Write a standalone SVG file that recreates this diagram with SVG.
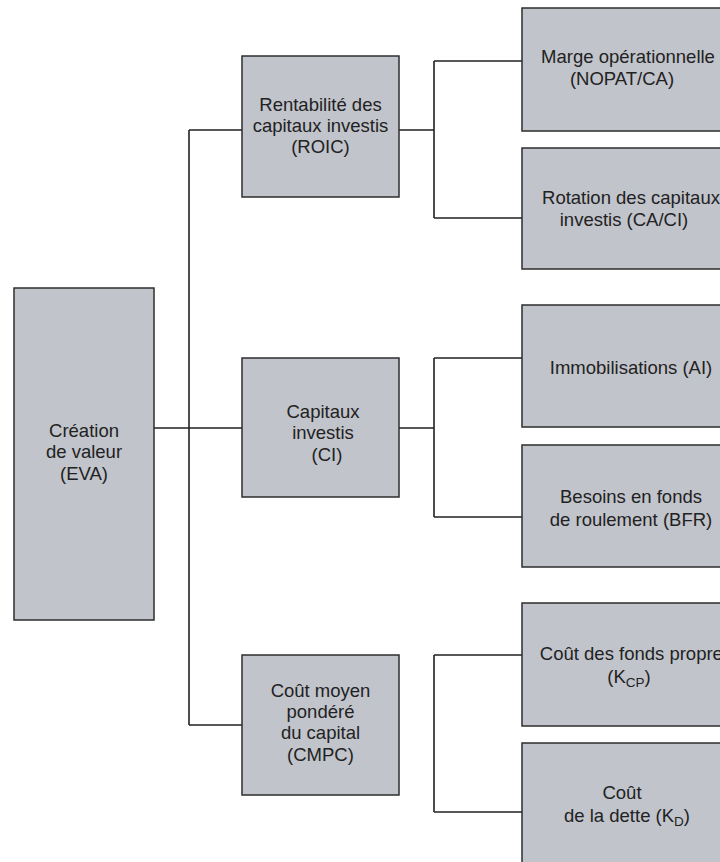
<svg xmlns="http://www.w3.org/2000/svg" width="720" height="862" viewBox="0 0 720 862">
<style>
.box{fill:#c1c4cb;stroke:#2e2e2e;stroke-width:1.5}
.t{font-family:"Liberation Sans",Arial,sans-serif;font-size:18.5px;fill:#222;text-anchor:middle}
.c{fill:none;stroke:#222;stroke-width:1.6}
.sub{font-size:13.5px}
</style>
<rect width="720" height="862" fill="#fff"/>
<g id="connectors">
<path class="c" d="M154,428H189M189,130V725M189,130H242M189,428H242M189,725H242"/>
<path class="c" d="M399,130H434M434,61V218M434,61H522M434,218H522"/>
<path class="c" d="M399,428H434M434,358V517M434,358H522M434,517H522"/>
<path class="c" d="M434,655V812M434,655H522M434,812H522"/>
</g>
<g id="eva">
<rect class="box" x="14" y="288" width="140" height="332"/>
<text class="t" x="84" y="437">Création</text>
<text class="t" x="84" y="458">de valeur</text>
<text class="t" x="84" y="480">(EVA)</text>
</g>
<g id="roic">
<rect class="box" x="242" y="56" width="157" height="141"/>
<text class="t" x="320.5" y="111">Rentabilité des</text>
<text class="t" x="320.5" y="132">capitaux investis</text>
<text class="t" x="320.5" y="153">(ROIC)</text>
</g>
<g id="ci">
<rect class="box" x="242" y="358" width="157" height="139"/>
<text class="t" x="323" y="418">Capitaux</text>
<text class="t" x="323" y="439">investis</text>
<text class="t" x="327" y="461">(CI)</text>
</g>
<g id="cmpc">
<rect class="box" x="242" y="655" width="157" height="140"/>
<text class="t" x="320.5" y="697">Coût moyen</text>
<text class="t" x="320.5" y="718">pondéré</text>
<text class="t" x="320.5" y="739">du capital</text>
<text class="t" x="320.5" y="761">(CMPC)</text>
</g>
<g id="marge">
<rect class="box" x="522" y="8" width="215" height="123"/>
<text class="t" x="628" y="63">Marge opérationnelle</text>
<text class="t" x="622" y="85">(NOPAT/CA)</text>
</g>
<g id="rotation">
<rect class="box" x="522" y="148" width="215" height="121"/>
<text class="t" x="631" y="204">Rotation des capitaux</text>
<text class="t" x="624" y="226">investis (CA/CI)</text>
</g>
<g id="immo">
<rect class="box" x="522" y="305" width="215" height="122"/>
<text class="t" x="631" y="374">Immobilisations (AI)</text>
</g>
<g id="bfr">
<rect class="box" x="522" y="445" width="215" height="122"/>
<text class="t" x="631" y="503">Besoins en fonds</text>
<text class="t" x="631" y="526">de roulement (BFR)</text>
</g>
<g id="kcp">
<rect class="box" x="522" y="603" width="215" height="123"/>
<text class="t" x="636" y="660">Coût des fonds propres</text>
<text class="t" x="629" y="683">(K<tspan class="sub" dy="4">CP</tspan><tspan dy="-4">)</tspan></text>
</g>
<g id="kd">
<rect class="box" x="522" y="743" width="215" height="125"/>
<text class="t" x="622" y="799">Coût</text>
<text class="t" x="627" y="822">de la dette (K<tspan class="sub" dy="4">D</tspan><tspan dy="-4">)</tspan></text>
</g>
</svg>
